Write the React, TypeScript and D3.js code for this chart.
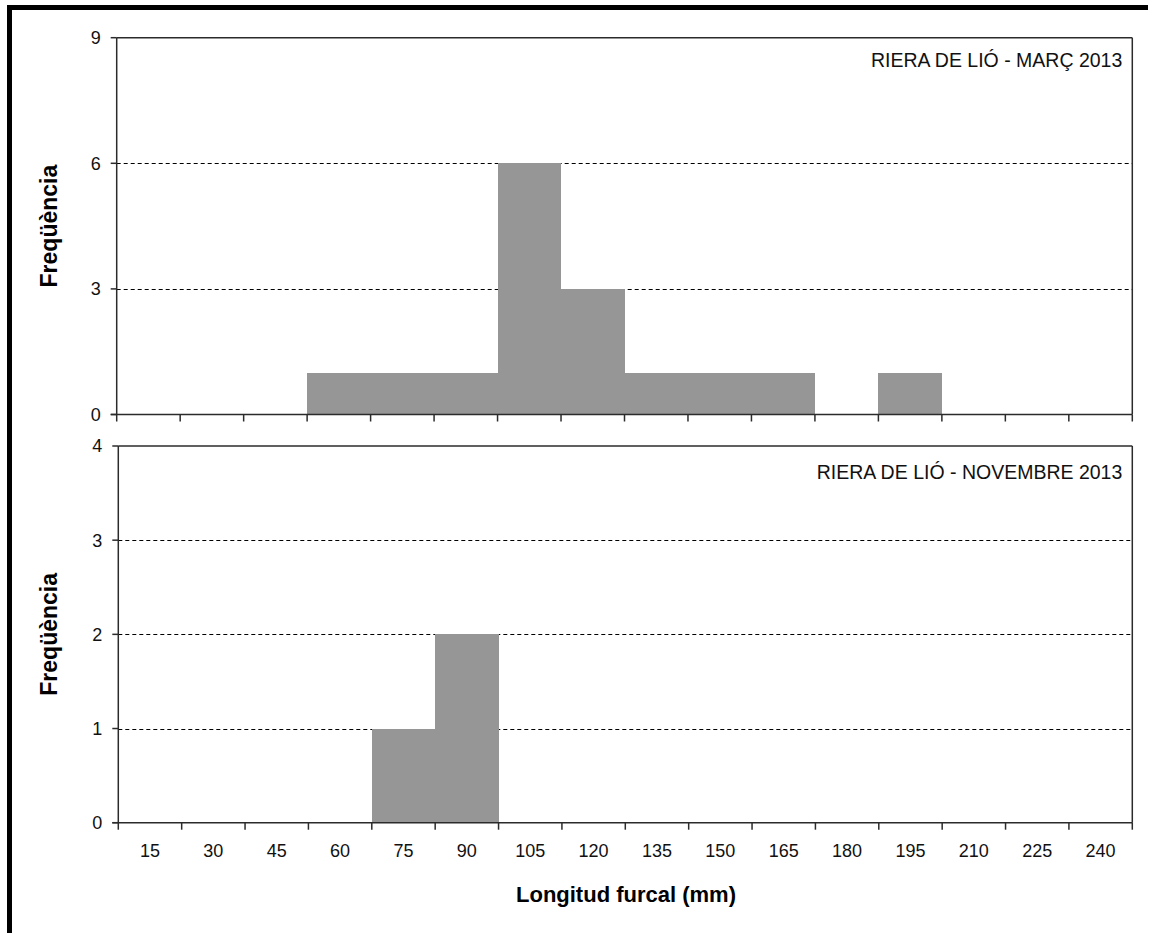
import React from "react";
import * as d3 from "d3";

const binLabels = ["15", "30", "45", "60", "75", "90", "105", "120", "135", "150", "165", "180", "195", "210", "225", "240"];
const marchCounts = [0, 0, 0, 1, 1, 1, 6, 3, 1, 1, 1, 0, 1, 0, 0, 0];
const novemberCounts = [0, 0, 0, 0, 1, 2, 0, 0, 0, 0, 0, 0, 0, 0, 0, 0];
const marchTicks = [0, 3, 6, 9];
const novemberTicks = [0, 1, 2, 3, 4];
const marchTitle = "RIERA DE LIÓ - MARÇ 2013";
const novemberTitle = "RIERA DE LIÓ - NOVEMBRE 2013";
const yTitle = "Freqüència";
const xTitle = "Longitud furcal (mm)";

const FONT = "'Liberation Sans', Arial, sans-serif";

type PanelProps = {
  counts: number[];
  ticks: number[];
  title: string;
  left: number;
  right: number;
  top: number;
  bottom: number;
  showLabels: boolean;
  titleOffset: number;
};

function Panel({ counts, ticks, title, left, right, top, bottom, showLabels, titleOffset }: PanelProps) {
  const x = d3.scaleLinear().domain([0, binLabels.length]).range([left, right]);
  const yMax = ticks[ticks.length - 1];
  const y = d3.scaleLinear().domain([0, yMax]).range([bottom, top]);
  const axisColor = "#2b2b2b";
  return (
    <g>
      {ticks
        .filter((t) => t > 0 && t < yMax)
        .map((t) => (
          <line
            key={"g" + t}
            x1={left}
            x2={right}
            y1={Math.round(y(t)) + 0.5}
            y2={Math.round(y(t)) + 0.5}
            stroke="#000"
            strokeWidth={1}
            strokeDasharray="4,3"
          />
        ))}
      <g shapeRendering="crispEdges">
        {counts.map((c, i) =>
          c > 0 ? (
            <rect
              key={"b" + i}
              x={x(i)}
              y={y(c)}
              width={x(i + 1) - x(i)}
              height={y(0) - y(c)}
              fill="#969696"
            />
          ) : null
        )}
      </g>
      <line x1={left} x2={right} y1={top} y2={top} stroke={axisColor} strokeWidth={1.5} />
      <line x1={right} x2={right} y1={top} y2={bottom} stroke={axisColor} strokeWidth={1.5} />
      <line x1={left} x2={left} y1={top} y2={bottom} stroke={axisColor} strokeWidth={1.5} />
      <line x1={left - 6} x2={right} y1={bottom} y2={bottom} stroke={axisColor} strokeWidth={1.5} />
      {ticks.map((t) => (
        <g key={"y" + t}>
          <line x1={left - 6} x2={left} y1={y(t)} y2={y(t)} stroke={axisColor} strokeWidth={1.5} />
          <text
            x={left - 16}
            y={y(t)}
            dy="0.36em"
            textAnchor="end"
            fontFamily={FONT}
            fontSize={18}
            fill="#111"
          >
            {t}
          </text>
        </g>
      ))}
      {d3.range(binLabels.length + 1).map((i) => (
        <line
          key={"x" + i}
          x1={x(i)}
          x2={x(i)}
          y1={bottom}
          y2={bottom + 7}
          stroke={axisColor}
          strokeWidth={1.5}
        />
      ))}
      {showLabels &&
        binLabels.map((l, i) => (
          <text
            key={"l" + i}
            x={(x(i) + x(i + 1)) / 2}
            y={bottom + 34}
            textAnchor="middle"
            fontFamily={FONT}
            fontSize={18}
            fill="#111"
          >
            {l}
          </text>
        ))}
      <text
        x={right - 10}
        y={top + titleOffset}
        textAnchor="end"
        fontFamily={FONT}
        fontSize={19.5}
        fill="#111"
      >
        {title}
      </text>
      <text
        transform={`translate(57,${(top + bottom) / 2}) rotate(-90)`}
        textAnchor="middle"
        fontFamily={FONT}
        fontSize={23}
        fontWeight="bold"
        fill="#000"
      >
        {yTitle}
      </text>
    </g>
  );
}

export default function App() {
  const W = 1158;
  const H = 933;
  return (
    <svg
      width={W}
      height={H}
      style={{ position: "absolute", left: 0, top: 0, background: "#fff" }}
    >
      <rect x={0} y={0} width={W} height={H} fill="#fff" />
      <rect x={7} y={5} width={1141} height={5} fill="#000" />
      <rect x={7} y={5} width={5} height={H - 5} fill="#000" />
      <Panel
        counts={marchCounts}
        ticks={marchTicks}
        title={marchTitle}
        left={116.7}
        right={1132.3}
        top={37.7}
        bottom={414.5}
        showLabels={false}
        titleOffset={29}
      />
      <Panel
        counts={novemberCounts}
        ticks={novemberTicks}
        title={novemberTitle}
        left={118.3}
        right={1132.3}
        top={446}
        bottom={822.7}
        showLabels={true}
        titleOffset={33}
      />
      <text
        x={626}
        y={902}
        textAnchor="middle"
        fontFamily={FONT}
        fontSize={22}
        fontWeight="bold"
        fill="#000"
      >
        {xTitle}
      </text>
    </svg>
  );
}
